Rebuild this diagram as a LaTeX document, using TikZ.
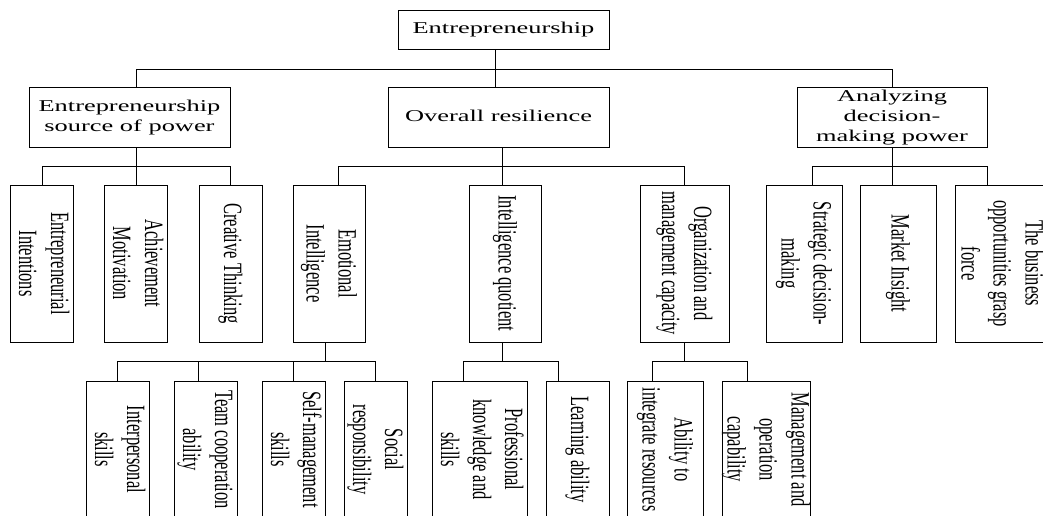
\documentclass[tikz,border=0pt]{standalone}
\usepackage{fontspec}
\setmainfont{Liberation Serif}
\usepackage{graphicx}
\newcommand\hlab[1]{\scalebox{1.6}[1]{\begin{tabular}{@{}c@{}}#1\end{tabular}}}
\newcommand\vlab[1]{\makebox[0pt]{\scalebox{1.6}[1]{\rotatebox{-90}{\begin{tabular}{@{}c@{}}#1\end{tabular}}}}}
\tikzset{
  box/.style={draw, rectangle, line width=0.9pt, inner sep=0pt},
  lvtwo/.style={box, minimum height=60},
  lvthree/.style={box, minimum height=157},
  lvfour/.style={box, minimum height=137},
  conn/.style={line width=0.8pt}
}
\begin{document}
\begin{tikzpicture}[x=1pt,y=-1pt,font=\fontsize{16.5}{20}\selectfont]
\useasboundingbox (0,0) rectangle (1043,515);
\fill[white] (0,0) rectangle (1043,515);
\clip (0,0) rectangle (1043,515);

% level 1
\node[box, minimum width=211, minimum height=39] (top) at (503.5,29.5) {\hlab{Entrepreneurship}};

% level 2
\node[lvtwo, minimum width=201] (l2a) at (129.5,117.5) {\hlab{Entrepreneurship\\source of power}};
\node[lvtwo, minimum width=221] (l2b) at (498.5,117.5) {\hlab{Overall resilience}};
\node[lvtwo, minimum width=190] (l2c) at (892,117.5) {\hlab{Analyzing\\decision-\\making power}};

% level 3
\node[lvthree, minimum width=63] (a1) at (41.5,263.5) {\vlab{Entrepreneurial\\Intentions}};
\node[lvthree, minimum width=63] (a2) at (135.5,263.5) {\vlab{Achievement\\Motivation}};
\node[lvthree, minimum width=63] (a3) at (230.5,263.5) {\vlab{Creative Thinking}};
\node[lvthree, minimum width=72] (b1) at (329,263.5) {\vlab{Emotional\\Intelligence}};
\node[lvthree, minimum width=72] (b2) at (505,263.5) {\vlab{Intelligence quotient}};
\node[lvthree, minimum width=89] (b3) at (684.5,263.5) {\vlab{Organization and\\management capacity}};
\node[lvthree, minimum width=76] (c1) at (804,263.5) {\vlab{Strategic decision-\\making}};
\node[lvthree, minimum width=76] (c2) at (898,263.5) {\vlab{Market Insight}};
\node[lvthree, minimum width=90] (c3) at (1000,263.5) {\vlab{The business\\opportunities grasp\\force}};

% level 4
\node[lvfour, minimum width=63] (d1) at (117.5,449.5) {\vlab{Interpersonal\\skills}};
\node[lvfour, minimum width=63] (d2) at (205.5,449.5) {\vlab{Team cooperation\\ability}};
\node[lvfour, minimum width=63] (d3) at (293.5,449.5) {\vlab{Self-management\\skills}};
\node[lvfour, minimum width=63] (d4) at (375.5,449.5) {\vlab{Social\\responsibility}};
\node[lvfour, minimum width=95] (e1) at (479.5,449.5) {\vlab{Professional\\knowledge and\\skills}};
\node[lvfour, minimum width=63] (e2) at (577.5,449.5) {\vlab{Learning ability}};
\node[lvfour, minimum width=76] (f1) at (665,449.5) {\vlab{Ability to\\integrate resources}};
\node[lvfour, minimum width=88] (f2) at (766,449.5) {\vlab{Management and\\operation\\capability}};

% bus levels
\coordinate (bus0) at (0,69);
\coordinate (bus1) at (0,166);
\coordinate (bus2) at (0,361);

% attachment points
\coordinate (top-s) at ([xshift=-8.5pt]top.south);
\coordinate (l2a-n) at ([xshift=6.5pt]l2a.north);
\coordinate (l2a-s) at ([xshift=6.5pt]l2a.south);
\coordinate (l2b-n) at ([xshift=-3.5pt]l2b.north);
\coordinate (l2b-s) at ([xshift=3.5pt]l2b.south);
\coordinate (a1t) at ([xshift=0.5pt]a1.north);
\coordinate (a2t) at ([xshift=0.5pt]a2.north);
\coordinate (a3t) at ([xshift=-0.5pt]a3.north);
\coordinate (b1t) at ([xshift=9pt]b1.north);
\coordinate (b2t) at ([xshift=-3pt]b2.north);
\coordinate (b3t) at ([xshift=-0.5pt]b3.north);
\coordinate (c1t) at ([xshift=8pt]c1.north);
\coordinate (c2t) at ([xshift=-6pt]c2.north);
\coordinate (c3t) at ([xshift=-13pt]c3.north);
\coordinate (b1b) at ([xshift=-4pt]b1.south);
\coordinate (b2b) at ([xshift=-3pt]b2.south);
\coordinate (b3b) at ([xshift=-0.5pt]b3.south);
\coordinate (d1t) at ([xshift=-0.5pt]d1.north);
\coordinate (d2t) at ([xshift=-7.5pt]d2.north);
\coordinate (d3t) at ([xshift=-0.5pt]d3.north);
\coordinate (d4t) at ([xshift=-0.5pt]d4.north);
\coordinate (e1t) at ([xshift=-16.5pt]e1.north);
\coordinate (e2t) at ([xshift=-19.5pt]e2.north);
\coordinate (f1t) at ([xshift=-13pt]f1.north);
\coordinate (f2t) at ([xshift=-19pt]f2.north);

% level 1 -> 2
\draw[conn] (top-s) -- (l2b-n);
\draw[conn] (l2a-n) |- (l2c.north |- bus0) -- (l2c.north);

% level 2 -> 3
\draw[conn] (a1t) |- (a3t |- bus1) -- (a3t);
\draw[conn] (l2a-s) -- (a2t);
\draw[conn] (b1t) |- (b3t |- bus1) -- (b3t);
\draw[conn] (l2b-s) -- (b2t);
\draw[conn] (c1t) |- (c3t |- bus1) -- (c3t);
\draw[conn] (l2c.south) -- (c2t);

% level 3 -> 4
\draw[conn] (b1b) -- (b1b |- bus2);
\draw[conn] (d1t) |- (d4t |- bus2) -- (d4t);
\draw[conn] (d2t) -- (d2t |- bus2);
\draw[conn] (d3t) -- (d3t |- bus2);
\draw[conn] (b2b) -- (b2b |- bus2);
\draw[conn] (e1t) |- (e2t |- bus2) -- (e2t);
\draw[conn] (b3b) -- (b3b |- bus2);
\draw[conn] (f1t) |- (f2t |- bus2) -- (f2t);
\end{tikzpicture}
\end{document}
